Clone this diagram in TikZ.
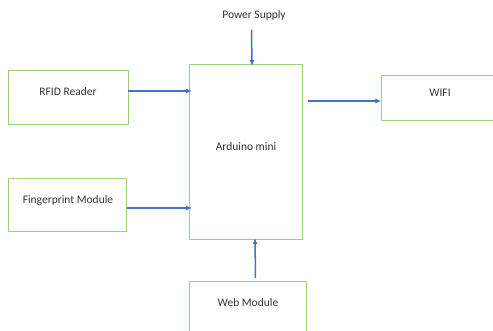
\documentclass[tikz,border=0pt]{standalone}
\usepackage{fontspec}
\setmainfont{Carlito}
\usetikzlibrary{arrows.meta}
\definecolor{boxgreen}{HTML}{9CD07A}
\definecolor{arrblue}{HTML}{4472C4}
\definecolor{txtgray}{HTML}{333333}
\begin{document}
\begin{tikzpicture}[x=1pt,y=-1pt,
  blk/.style={draw=boxgreen,line width=1pt},
  lbl/.style={text=txtgray,font=\fontsize{11.5}{13}\selectfont,inner sep=0pt},
  conn/.style={draw=arrblue,line width=1.5pt,-{Latex[length=6pt,width=5pt]}}]
\useasboundingbox (0,0) rectangle (493,330);
\clip (0,0) rectangle (493,330);
% boxes
\draw[blk] (8.3,70.3) rectangle (128.3,124.3);
\draw[blk] (8.3,178.3) rectangle (126.7,231);
\draw[blk] (189,64) rectangle (302.7,239);
\draw[blk] (381.3,75) rectangle (500,120.7);
\draw[blk] (189.3,281) rectangle (306.3,340);
% named anchors
\coordinate (rfidE) at (128.3,91);
\coordinate (ardRfid) at (192,91);
\coordinate (fpE) at (126.7,208);
\coordinate (ardFp) at (192,208);
\coordinate (psS) at (251.5,30);
\coordinate (ardN) at (252,66);
\coordinate (ardE) at (308,101);
\coordinate (wifiW) at (381.3,101);
\coordinate (webN) at (255.5,278);
\coordinate (ardS) at (255,238);
% labels
\node[lbl] (ps) at (254,15.5) {Power Supply};
\node[lbl] (rfid) at (68,92) {RFID Reader};
\node[lbl] (fp) at (68,200) {Fingerprint Module};
\node[lbl] (ard) at (246,147) {Arduino mini};
\node[lbl] (wifi) at (440,93) {WIFI};
\node[lbl] (web) at (248,303) {Web Module};
% connectors
\draw[conn] (psS) -- (ardN);
\draw[conn] (rfidE) -- (ardRfid);
\draw[conn] (fpE) -- (ardFp);
\draw[conn] (ardE) -- (wifiW);
\draw[conn] (webN) -- (ardS);
\end{tikzpicture}
\end{document}
